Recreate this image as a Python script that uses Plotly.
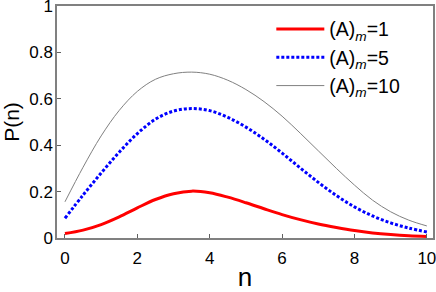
import plotly.graph_objects as go

n = [0, 0.5, 1, 1.5, 2, 2.5, 3, 3.5, 4, 4.5, 5, 5.5, 6, 6.5, 7, 7.5, 8, 8.5, 9, 9.5, 10]
p_m1 = [0.019, 0.034, 0.058, 0.091, 0.13, 0.166, 0.191, 0.202, 0.195, 0.176, 0.152,
        0.126, 0.101, 0.079, 0.06, 0.045, 0.032, 0.022, 0.015, 0.01, 0.007]
p_m5 = [0.085, 0.185, 0.28, 0.37, 0.45, 0.512, 0.547, 0.558, 0.549, 0.52, 0.478,
        0.426, 0.366, 0.302, 0.24, 0.183, 0.134, 0.095, 0.065, 0.043, 0.026]
p_m10 = [0.156, 0.305, 0.44, 0.55, 0.632, 0.684, 0.708, 0.715, 0.706, 0.68, 0.64,
         0.588, 0.525, 0.452, 0.376, 0.3, 0.228, 0.163, 0.113, 0.077, 0.052]
labels = ["(A)<sub><i>m</i></sub>=1", "(A)<sub><i>m</i></sub>=5", "(A)<sub><i>m</i></sub>=10"]

fig = go.Figure()
fig.add_trace(go.Scatter(x=n, y=p_m1, mode="lines", name=labels[0],
                         line=dict(color="#ff0000", width=3, shape="spline")))
fig.add_trace(go.Scatter(x=n, y=p_m5, mode="lines", name=labels[1],
                         line=dict(color="#0000ff", width=3, dash="3px,2px", shape="spline")))
fig.add_trace(go.Scatter(x=n, y=p_m10, mode="lines", name=labels[2],
                         line=dict(color="#808080", width=1, shape="spline")))

axis_common = dict(showgrid=False, zeroline=False, showline=True, linecolor="#808080",
                   linewidth=1.5, mirror=True, ticks="inside", ticklen=4,
                   tickcolor="#606060", tickfont=dict(size=17, color="black"),
                   ticklabeloverflow="allow", automargin=False)
fig.update_xaxes(range=[-0.22, 10.17], tickvals=[0, 2, 4, 6, 8, 10],
                 title=dict(text="n", font=dict(size=26, color="black"), standoff=12),
                 ticklabelstandoff=4,
                 **axis_common)
fig.update_yaxes(range=[0, 1], tickvals=[0, 0.2, 0.4, 0.6, 0.8, 1],
                 ticktext=["0", "0.2", "0.4", "0.6", "0.8", "1"],
                 title=dict(text="P(n)", font=dict(size=21, color="black"), standoff=17),
                 ticklabelstandoff=-1,
                 **axis_common)
fig.update_layout(
    width=436, height=292,
    margin=dict(l=57, r=3, t=6, b=54, autoexpand=False),
    paper_bgcolor="white", plot_bgcolor="white",
    font=dict(family="Liberation Sans, Arial, sans-serif", color="black"),
    legend=dict(x=0.57, y=0.984, xanchor="left", yanchor="top",
                bgcolor="rgba(0,0,0,0)", font=dict(size=19.5), itemwidth=48,
                tracegroupgap=0),
    showlegend=True,
)
fig.write_html("out.html", config={"displayModeBar": False},
               post_script="document.body.style.margin='0';document.body.style.overflow='hidden';")
